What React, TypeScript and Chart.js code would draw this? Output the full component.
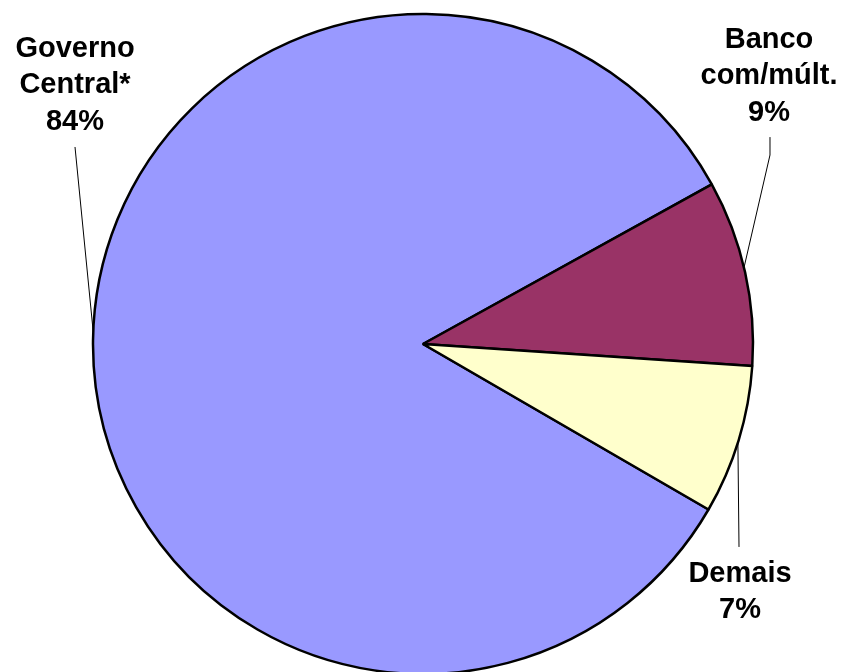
import React, { useEffect, useRef } from "react";
import { Chart, registerables } from "chart.js";

Chart.register(...registerables);

const categories = ["Governo Central*", "Banco com/múlt.", "Demais"];
const shares = [83.6, 9.1, 7.3];
const labelLines = [
  ["Governo", "Central*", "84%"],
  ["Banco", "com/múlt.", "9%"],
  ["Demais", "7%"],
];
const colors = ["#9999FF", "#993366", "#FFFFCC"];

// label placement in units of the pie radius, relative to the pie centre
const labelPos = [
  { tx: -1.0545, ty: -0.8697, lead: [[-1.0545, -0.597]], attachDeg: 182.1 },
  { tx: 1.0485, ty: -0.897, lead: [[1.0515, -0.627], [1.0515, -0.5727]], attachDeg: -13.4 },
  { tx: 0.9606, ty: 0.7212, lead: [[0.9576, 0.615]], attachDeg: 17.4 },
];

const labelPlugin = {
  id: "pieLabels",
  afterDraw(chart: any) {
    const meta = chart.getDatasetMeta(0);
    const arc = meta.data[0];
    if (!arc) return;
    const cx = arc.x;
    const cy = arc.y;
    const r = arc.outerRadius;
    const ctx = chart.ctx;
    ctx.save();
    ctx.font = "bold 29px 'Liberation Sans', Arial, sans-serif";
    ctx.fillStyle = "#000";
    ctx.textAlign = "center";
    ctx.textBaseline = "alphabetic";
    const lh = 36.4;
    labelPos.forEach((p, i) => {
      labelLines[i].forEach((t, k) => {
        ctx.fillText(t, cx + p.tx * r, cy + p.ty * r + k * lh);
      });
      ctx.beginPath();
      ctx.strokeStyle = "#000";
      ctx.lineWidth = 1;
      p.lead.forEach((pt, k) => {
        const x = cx + pt[0] * r;
        const y = cy + pt[1] * r;
        if (k === 0) ctx.moveTo(x, y);
        else ctx.lineTo(x, y);
      });
      const a = (p.attachDeg * Math.PI) / 180;
      ctx.lineTo(cx + Math.cos(a) * r, cy + Math.sin(a) * r);
      ctx.stroke();
    });
    ctx.restore();
  },
};

export default function App() {
  const ref = useRef<HTMLCanvasElement | null>(null);
  useEffect(() => {
    if (!ref.current) return;
    const chart = new Chart(ref.current, {
      type: "pie",
      data: {
        labels: categories,
        datasets: [
          {
            data: shares,
            backgroundColor: colors,
            borderColor: "#000",
            borderWidth: 2.5,
            hoverOffset: 0,
          },
        ],
      },
      options: {
        animation: false,
        responsive: false,
        rotation: 120.1,
        radius: 330,
        layout: { padding: { left: 5, right: 0, top: 16, bottom: 0 } },
        plugins: {
          legend: { display: false },
          tooltip: { enabled: false },
        },
        events: [],
      },
      plugins: [labelPlugin],
    });
    return () => chart.destroy();
  }, []);
  return (
    <div style={{ position: "fixed", left: 0, top: 0, width: 841, height: 672, background: "#fff" }}>
      <canvas ref={ref} width={841} height={672} style={{ width: 841, height: 672, display: "block" }} />
    </div>
  );
}
